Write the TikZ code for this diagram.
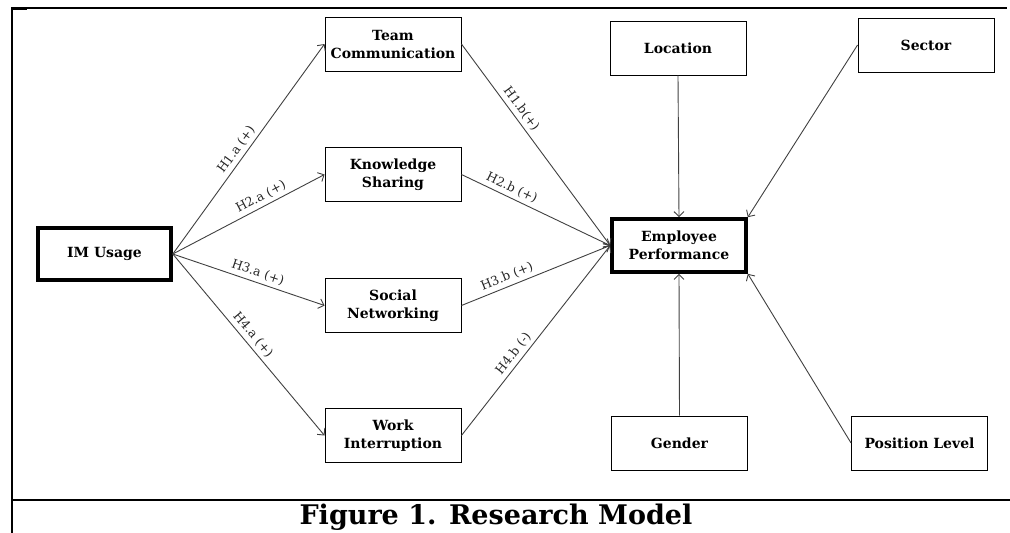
\documentclass[tikz,border=0pt]{standalone}
\usepackage{fontspec}
\setmainfont{DejaVu Serif}
\usetikzlibrary{arrows.meta}

\begin{document}
\begin{tikzpicture}[x=1pt,y=-1pt,
  box/.style={draw=black, line width=0.9pt, minimum width=136pt, minimum height=54pt,
    align=center, inner sep=2pt, font=\bfseries\fontsize{14}{18}\selectfont},
  keybox/.style={box, line width=3.6pt, minimum width=133pt, minimum height=52pt},
  link/.style={draw=black!75, line width=0.9pt, -{Straight Barb[length=5pt,width=10pt]}},
  hyp/.style={font=\fontsize{12.5}{14}\selectfont, sloped, above, inner sep=3.5pt, text=black!85}]

  \useasboundingbox (0,0) rectangle (1010,533);

  % outer frame and caption rule
  \draw[line width=2pt] (12,533) -- (12,8);
  \draw[line width=1.4pt] (11,8) -- (1007,8);
  \draw[line width=2.6pt] (11,9) -- (27,9);
  \draw[line width=2pt] (11,500) -- (1010,500);

  % constructs
  \node[keybox] (im) at (104.5,254) {IM Usage};
  \node[box] (tc) at (393,44) {Team\\Communication};
  \node[box] (ks) at (393,174.5) {Knowledge\\Sharing};
  \node[box] (sn) at (393,305.5) {Social\\Networking};
  \node[box] (wi) at (393,435.5) {Work\\Interruption};
  \node[keybox, minimum width=134pt, minimum height=53pt] (ep) at (679,245.5) {Employee\\Performance};

  % control variables
  \node[box] (loc) at (678,48) {Location};
  \node[box] (sec) at (926,45) {Sector};
  \node[box] (gen) at (679.5,443) {Gender};
  \node[box] (pos) at (919.5,443) {Position Level};

  % IM usage to mediators
  \draw[link] (im.east) -- node[hyp, pos=0.47] {H1.a (+)} (tc.west);
  \draw[link] (im.east) -- node[hyp, pos=0.61] {H2.a (+)} (ks.west);
  \draw[link] (im.east) -- node[hyp, pos=0.54] {H3.a (+)} (sn.west);
  \draw[link] (im.east) -- node[hyp, pos=0.48] {H4.a (+)} (wi.west);

  % mediators to performance
  \draw[link] (tc.east) -- node[hyp, pos=0.35] {H1.b(+)} (ep.west);
  \draw[link] (ks.east) -- node[hyp, pos=0.31] {H2.b (+)} (ep.west);
  \draw[link] (sn.east) -- node[hyp, pos=0.33] {H3.b (+)} (ep.west);
  \draw[link] (wi.east) -- node[hyp, pos=0.40] {H4.b (-)} (ep.west);

  % controls to performance
  \draw[link] (loc.south) -- (ep.north);
  \draw[link] (sec.west) -- (ep.north east);
  \draw[link] (gen.north) -- (ep.south);
  \draw[link] (pos.west) -- (ep.south east);

  \node[font=\bfseries\fontsize{27}{31}\selectfont] (cap) at (496,517) {Figure 1. Research Model};
\end{tikzpicture}
\end{document}
